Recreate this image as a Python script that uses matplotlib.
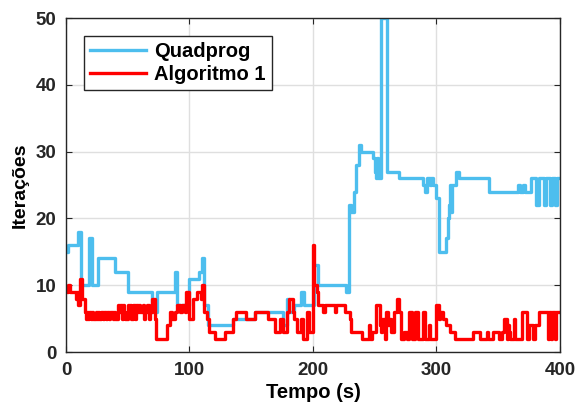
import matplotlib.pyplot as plt

# Quadprog iterations (step breakpoints: time, value)
quad_t = [0, 2, 10, 12, 19, 21, 26, 40, 50, 70, 74, 88, 90, 100, 108, 110, 112, 115,
          135, 153, 176, 179, 181, 185, 190, 193, 201, 204, 227, 229, 231, 233, 235,
          237, 239, 249, 250, 251, 252, 253, 255, 260, 270, 289, 291, 292, 295, 296,
          297, 300, 302, 308, 309, 310, 311, 312, 313, 316, 318, 343, 366, 368, 370,
          372, 377, 381, 383, 387, 389, 392, 394, 396, 398, 400]
quad_v = [15, 16, 18, 10, 17, 10, 14, 12, 9, 6, 9, 12, 7, 11, 12, 14, 7, 4,
          5, 6, 4, 8, 6, 7, 9, 7, 13, 10, 9, 22, 21, 24, 28,
          31, 30, 29, 27, 26, 29, 26, 50, 27, 26, 25, 24, 26, 25, 26,
          25, 23, 15, 17, 20, 22, 25, 21, 25, 27, 26, 24, 25, 24, 25,
          24, 26, 22, 26, 22, 26, 22, 26, 22, 26, 26]

# Algoritmo 1 iterations
alg_t = [0, 2, 3, 8, 9, 10, 11, 13, 15, 16, 17, 18, 19, 20, 21, 22, 24, 25, 26, 27,
         28, 30, 31, 32, 33, 35, 36, 38, 39, 40, 42, 43, 44, 45, 46, 47, 48, 50,
         51, 52, 53, 54, 56, 57, 58, 59, 60, 62, 63, 64, 66, 67, 68, 70, 72, 73,
         82, 84, 86, 88, 90, 92, 94, 96, 97, 100, 103, 106, 109, 110, 112, 114, 116,
         121, 129, 135, 138, 146, 153, 164, 169, 173, 176, 179, 181, 184, 185, 187,
         190, 192, 195, 197, 200, 201, 203, 204, 208, 210, 218, 219, 226, 230, 231,
         240, 245, 246, 248, 251, 254, 255, 256, 258, 259, 261, 262, 263, 266, 268,
         270, 271, 274, 276, 278, 280, 283, 285, 289, 291, 294, 295, 300, 302, 303,
         305, 308, 311, 315, 330, 335, 341, 342, 346, 351, 353, 355, 357, 358, 359,
         360, 363, 364, 369, 373, 375, 378, 380, 383, 390, 391, 393, 394, 396, 397, 400]
alg_v = [9, 10, 9, 8, 9, 7, 11, 8, 6, 5, 6, 5, 6, 5, 6, 5, 6, 5, 6, 5,
         6, 5, 6, 5, 6, 5, 6, 5, 6, 5, 7, 6, 7, 5, 7, 6, 5, 7,
         6, 7, 5, 7, 5, 7, 6, 7, 6, 7, 5, 6, 7, 5, 6, 8, 5, 2,
         4, 6, 5, 6, 7, 6, 7, 6, 9, 5, 8, 9, 8, 10, 6, 5, 3,
         2, 3, 5, 6, 5, 6, 5, 3, 5, 3, 6, 8, 6, 5, 3,
         5, 2, 6, 3, 16, 10, 9, 7, 6, 7, 6, 7, 6, 5, 3,
         2, 4, 2, 3, 7, 4, 3, 5, 2, 6, 4, 5, 3, 6, 8,
         6, 2, 3, 2, 6, 2, 6, 2, 6, 2, 4, 2, 7, 5, 6,
         5, 4, 3, 2, 3, 2, 3, 2, 3, 2, 3, 5, 2, 4, 3,
         2, 5, 2, 6, 2, 4, 2, 4, 6, 2, 6, 2, 6, 2, 6, 6]

plt.rcParams['font.family'] = ['Liberation Sans', 'DejaVu Sans']
plt.rcParams['font.weight'] = 'bold'

fig = plt.figure(figsize=(5.76, 4.12), dpi=100)
ax = fig.add_axes([0.1146, 0.1456, 0.8574, 0.8107])

ax.plot(quad_t, quad_v, drawstyle='steps-post', color='#4DBEEE', lw=2.4, label='Quadprog')
ax.plot(alg_t, alg_v, drawstyle='steps-post', color='#FF0000', lw=2.4, label='Algoritmo 1')

ax.set_xlim(0, 400)
ax.set_ylim(0, 50)
ax.set_xticks([0, 100, 200, 300, 400])
ax.set_yticks([0, 10, 20, 30, 40, 50])
ax.grid(True, color='#dfdfdf', lw=1)
ax.set_axisbelow(True)
ax.tick_params(direction='in', top=True, right=True, labelsize=13.5, length=4,
               color='#262626', labelcolor='#262626', pad=7)
for sp in ax.spines.values():
    sp.set_color('#262626')
    sp.set_linewidth(1)
ax.set_xlabel('Tempo (s)', fontsize=14.5, fontweight='bold', labelpad=3)
ax.set_ylabel('Iterações', fontsize=14, fontweight='bold', labelpad=5)

leg = ax.legend(loc='upper left', bbox_to_anchor=(0.036, 0.946), fontsize=14.5,
                handlelength=2.8, fancybox=False, framealpha=1, edgecolor='#262626',
                borderpad=0.3, labelspacing=0.2, handletextpad=0.4, borderaxespad=0)
leg.get_frame().set_linewidth(1)

fig.savefig('out.png', dpi=100)
